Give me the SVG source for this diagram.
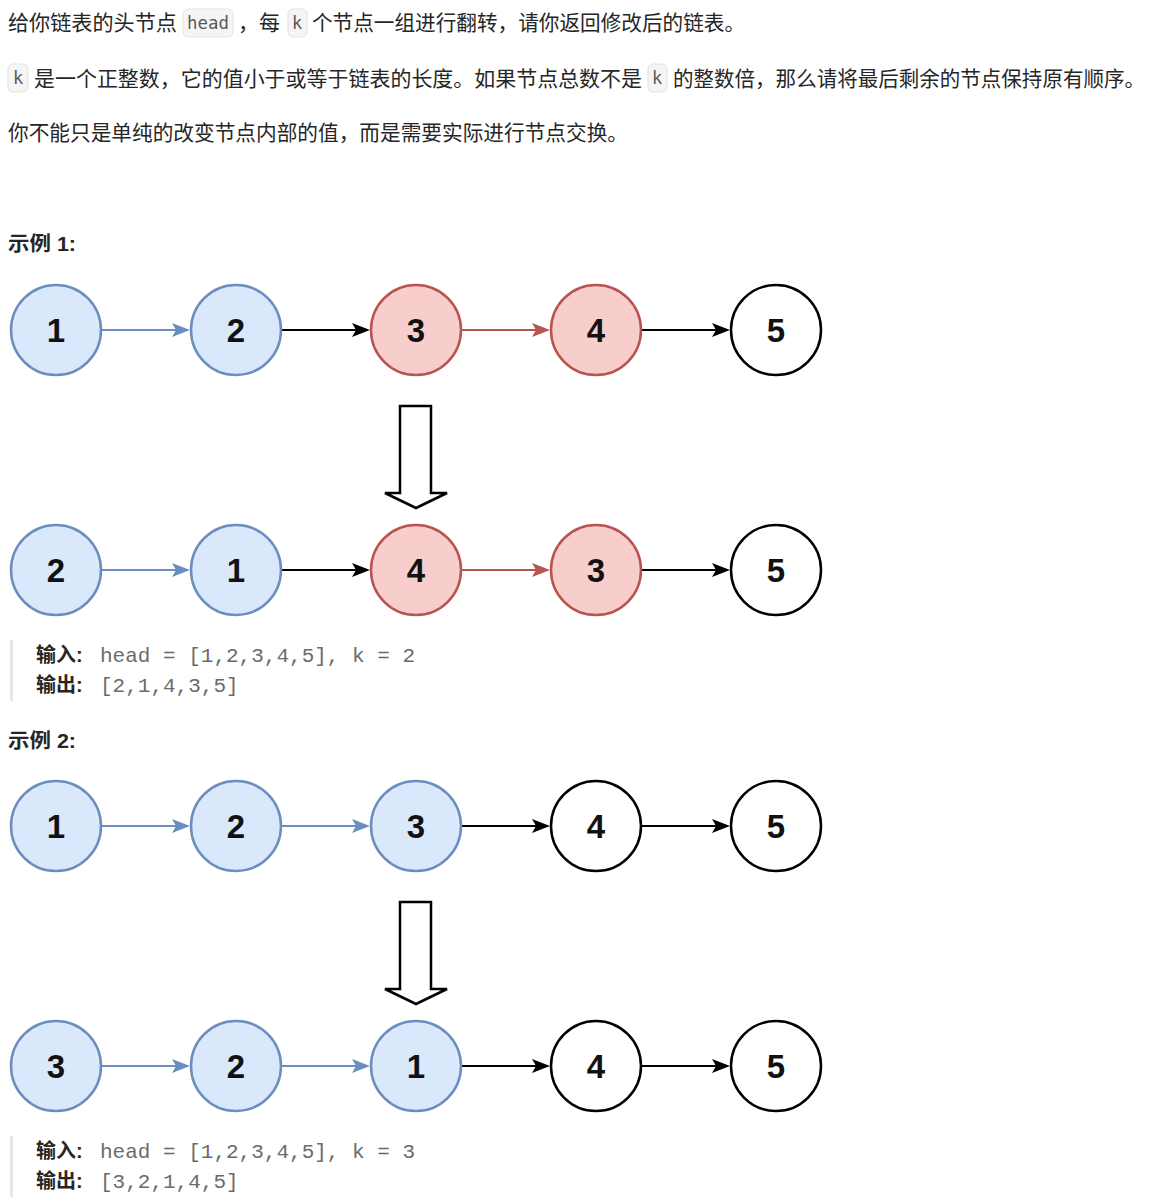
<svg xmlns="http://www.w3.org/2000/svg" width="1174" height="1197" viewBox="0 0 1174 1197">
<style>
.t{font-family:"Noto Sans CJK SC","Noto Sans",sans-serif;font-size:21px;fill:#262626}
.h{font-family:"Liberation Sans","Noto Sans CJK SC",sans-serif;font-size:20px;font-weight:bold;fill:#262626}
.code{font-family:"DejaVu Sans Mono","Liberation Mono",monospace;font-size:17px;fill:#595959}
.mono{font-family:"Liberation Mono","DejaVu Sans Mono",monospace;font-size:21px;fill:#6b6b6b}
.ibox{fill:#f5f5f6;stroke:#e3e3e3;stroke-width:1}
.bar{fill:#e6e6e6}
.blue{fill:#dae8fc;stroke:#6c8ebf;stroke-width:2.5}
.red{fill:#f8cecc;stroke:#b85450;stroke-width:2.5}
.white{fill:#ffffff;stroke:#000000;stroke-width:2.5}
.num{font-family:"Liberation Sans",Arial,sans-serif;font-size:33px;font-weight:bold;fill:#111;text-anchor:middle}
.eb{stroke:#6c8ebf;stroke-width:2;fill:none}
.er{stroke:#b85450;stroke-width:2;fill:none}
.ek{stroke:#000;stroke-width:2;fill:none}
.big{fill:#fff;stroke:#000;stroke-width:2.5;stroke-linejoin:miter}
</style>
<defs>
<marker id="mb" markerUnits="userSpaceOnUse" markerWidth="20" markerHeight="16" refX="8" refY="7" orient="auto"><path d="M0,0 L18,7 L0,14 L4,7 z" fill="#6c8ebf"/></marker>
<marker id="mr" markerUnits="userSpaceOnUse" markerWidth="20" markerHeight="16" refX="8" refY="7" orient="auto"><path d="M0,0 L18,7 L0,14 L4,7 z" fill="#b85450"/></marker>
<marker id="mk" markerUnits="userSpaceOnUse" markerWidth="20" markerHeight="16" refX="8" refY="7" orient="auto"><path d="M0,0 L18,7 L0,14 L4,7 z" fill="#000"/></marker>
</defs>
<rect width="1174" height="1197" fill="#fff"/>

<g id="intro">
<text class="t" x="8" y="30" textLength="169" lengthAdjust="spacingAndGlyphs">给你链表的头节点</text>
<rect class="ibox" x="183" y="9" width="50" height="28" rx="5"/>
<text class="code" x="187" y="29" textLength="42" lengthAdjust="spacingAndGlyphs">head</text>
<text class="t" x="238" y="30">，每</text>
<rect class="ibox" x="288" y="9" width="19" height="28" rx="5"/>
<text class="code" x="292" y="29">k</text>
<text class="t" x="312" y="30" textLength="433" lengthAdjust="spacingAndGlyphs">个节点一组进行翻转，请你返回修改后的链表。</text>

<rect class="ibox" x="8" y="64" width="20" height="28" rx="5"/>
<text class="code" x="13" y="84">k</text>
<text class="t" x="34" y="86" textLength="608" lengthAdjust="spacingAndGlyphs">是一个正整数，它的值小于或等于链表的长度。如果节点总数不是</text>
<rect class="ibox" x="648" y="64" width="19" height="28" rx="5"/>
<text class="code" x="652" y="84">k</text>
<text class="t" x="673" y="86" textLength="472" lengthAdjust="spacingAndGlyphs">的整数倍，那么请将最后剩余的节点保持原有顺序。</text>

<text class="t" x="8" y="140" textLength="620" lengthAdjust="spacingAndGlyphs">你不能只是单纯的改变节点内部的值，而是需要实际进行节点交换。</text>
</g>

<g id="ex1-title"><text class="h" x="8" y="251" textLength="68" lengthAdjust="spacingAndGlyphs">示例 1:</text></g>

<g id="connectors">
<line class="eb" x1="101" y1="330" x2="180" y2="330" marker-end="url(#mb)"/>
<line class="ek" x1="281" y1="330" x2="360" y2="330" marker-end="url(#mk)"/>
<line class="er" x1="461" y1="330" x2="540" y2="330" marker-end="url(#mr)"/>
<line class="ek" x1="641" y1="330" x2="720" y2="330" marker-end="url(#mk)"/>

<line class="eb" x1="101" y1="570" x2="180" y2="570" marker-end="url(#mb)"/>
<line class="ek" x1="281" y1="570" x2="360" y2="570" marker-end="url(#mk)"/>
<line class="er" x1="461" y1="570" x2="540" y2="570" marker-end="url(#mr)"/>
<line class="ek" x1="641" y1="570" x2="720" y2="570" marker-end="url(#mk)"/>

<line class="eb" x1="101" y1="826" x2="180" y2="826" marker-end="url(#mb)"/>
<line class="eb" x1="281" y1="826" x2="360" y2="826" marker-end="url(#mb)"/>
<line class="ek" x1="461" y1="826" x2="540" y2="826" marker-end="url(#mk)"/>
<line class="ek" x1="641" y1="826" x2="720" y2="826" marker-end="url(#mk)"/>

<line class="eb" x1="101" y1="1066" x2="180" y2="1066" marker-end="url(#mb)"/>
<line class="eb" x1="281" y1="1066" x2="360" y2="1066" marker-end="url(#mb)"/>
<line class="ek" x1="461" y1="1066" x2="540" y2="1066" marker-end="url(#mk)"/>
<line class="ek" x1="641" y1="1066" x2="720" y2="1066" marker-end="url(#mk)"/>
</g>

<g id="ex1-r1-n1"><circle class="blue" cx="56" cy="330" r="45"/><text class="num" x="56" y="342">1</text></g>
<g id="ex1-r1-n2"><circle class="blue" cx="236" cy="330" r="45"/><text class="num" x="236" y="342">2</text></g>
<g id="ex1-r1-n3"><circle class="red" cx="416" cy="330" r="45"/><text class="num" x="416" y="342">3</text></g>
<g id="ex1-r1-n4"><circle class="red" cx="596" cy="330" r="45"/><text class="num" x="596" y="342">4</text></g>
<g id="ex1-r1-n5"><circle class="white" cx="776" cy="330" r="45"/><text class="num" x="776" y="342">5</text></g>

<g id="ex1-arrow"><path class="big" d="M400,406 L431,406 L431,493 L447,493 L416,508 L385,493 L400,493 Z"/></g>

<g id="ex1-r2-n1"><circle class="blue" cx="56" cy="570" r="45"/><text class="num" x="56" y="582">2</text></g>
<g id="ex1-r2-n2"><circle class="blue" cx="236" cy="570" r="45"/><text class="num" x="236" y="582">1</text></g>
<g id="ex1-r2-n3"><circle class="red" cx="416" cy="570" r="45"/><text class="num" x="416" y="582">4</text></g>
<g id="ex1-r2-n4"><circle class="red" cx="596" cy="570" r="45"/><text class="num" x="596" y="582">3</text></g>
<g id="ex1-r2-n5"><circle class="white" cx="776" cy="570" r="45"/><text class="num" x="776" y="582">5</text></g>

<g id="ex1-io">
<rect class="bar" x="10" y="640" width="3" height="61"/>
<text class="h" x="36" y="662">输入:</text>
<text class="mono" x="100" y="662">head = [1,2,3,4,5], k = 2</text>
<text class="h" x="36" y="692">输出:</text>
<text class="mono" x="100" y="692">[2,1,4,3,5]</text>
</g>

<g id="ex2-title"><text class="h" x="8" y="748" textLength="68" lengthAdjust="spacingAndGlyphs">示例 2:</text></g>

<g id="ex2-r1-n1"><circle class="blue" cx="56" cy="826" r="45"/><text class="num" x="56" y="838">1</text></g>
<g id="ex2-r1-n2"><circle class="blue" cx="236" cy="826" r="45"/><text class="num" x="236" y="838">2</text></g>
<g id="ex2-r1-n3"><circle class="blue" cx="416" cy="826" r="45"/><text class="num" x="416" y="838">3</text></g>
<g id="ex2-r1-n4"><circle class="white" cx="596" cy="826" r="45"/><text class="num" x="596" y="838">4</text></g>
<g id="ex2-r1-n5"><circle class="white" cx="776" cy="826" r="45"/><text class="num" x="776" y="838">5</text></g>

<g id="ex2-arrow"><path class="big" d="M400,902 L431,902 L431,989 L447,989 L416,1004 L385,989 L400,989 Z"/></g>

<g id="ex2-r2-n1"><circle class="blue" cx="56" cy="1066" r="45"/><text class="num" x="56" y="1078">3</text></g>
<g id="ex2-r2-n2"><circle class="blue" cx="236" cy="1066" r="45"/><text class="num" x="236" y="1078">2</text></g>
<g id="ex2-r2-n3"><circle class="blue" cx="416" cy="1066" r="45"/><text class="num" x="416" y="1078">1</text></g>
<g id="ex2-r2-n4"><circle class="white" cx="596" cy="1066" r="45"/><text class="num" x="596" y="1078">4</text></g>
<g id="ex2-r2-n5"><circle class="white" cx="776" cy="1066" r="45"/><text class="num" x="776" y="1078">5</text></g>

<g id="ex2-io">
<rect class="bar" x="10" y="1136" width="3" height="61"/>
<text class="h" x="36" y="1158">输入:</text>
<text class="mono" x="100" y="1158">head = [1,2,3,4,5], k = 3</text>
<text class="h" x="36" y="1188">输出:</text>
<text class="mono" x="100" y="1188">[3,2,1,4,5]</text>
</g>
</svg>
